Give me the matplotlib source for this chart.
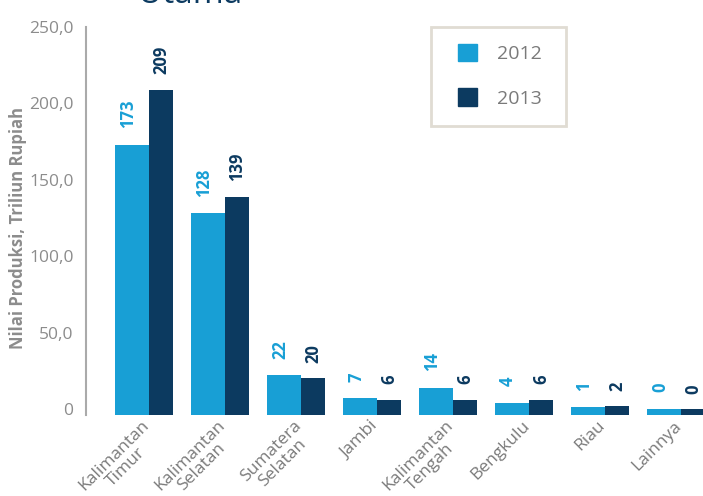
import numpy as np
import matplotlib
matplotlib.use('Agg')
from matplotlib import pyplot as plt
from matplotlib.patches import Patch, Rectangle

plt.rcParams['font.family'] = ['Open Sans', 'DejaVu Sans']

# data
regions = ['Kalimantan\nTimur', 'Kalimantan\nSelatan', 'Sumatera\nSelatan', 'Jambi',
           'Kalimantan\nTengah', 'Bengkulu', 'Riau', 'Lainnya']
val2012 = [173, 128, 22, 7, 14, 4, 1, 0]
val2013 = [209, 139, 20, 6, 6, 6, 2, 0]
yticks = [0, 50, 100, 150, 200, 250]
yticklabels = ['0', '50,0', '100,0', '150,0', '200,0', '250,0']

c12 = '#189fd5'
c13 = '#0c3a60'
grey = '#8c8c8c'
base = -4  # bars start a little below the zero line, as in the original

W, H = 703, 496
fig = plt.figure(figsize=(W / 100, H / 100), dpi=100)
ax = fig.add_axes([86 / W, 1 - 415 / H, 1 - 86 / W, (415 - 27) / H])

x = np.arange(len(regions))
w12, w13 = 0.45, 0.32
h12 = np.array(val2012) - base
h13 = np.array(val2013) - base
ax.bar(x - w12, h12, w12, bottom=base, align='edge', color=c12)
ax.bar(x, h13, w13, bottom=base, align='edge', color=c13)

for xi, v in zip(x, val2012):
    ax.annotate(str(v), (xi - w12 / 2 - 0.05, v), xytext=(0, 12), textcoords='offset points',
                rotation=90, ha='center', va='bottom', color=c12, fontsize=12, fontweight='bold')
for xi, v in zip(x, val2013):
    ax.annotate(str(v), (xi + w13 / 2, v), xytext=(0, 11), textcoords='offset points',
                rotation=90, ha='center', va='bottom', color=c13, fontsize=12, fontweight='bold')

ax.set_xlim(-0.83, 7.29)
ax.set_ylim(base, 250)
ax.set_yticks(yticks)
ax.set_yticklabels(yticklabels, color=grey, fontsize=12.5)
ax.set_xticks(x - 0.1)
ax.set_xticklabels(regions, rotation=45, ha='right', va='top', rotation_mode='anchor',
                   color='#7a7a7a', fontsize=12.5, multialignment='center',
                   linespacing=1.0)
ax.tick_params(axis='both', length=0)
ax.tick_params(axis='y', pad=9)
ax.tick_params(axis='x', pad=2)

for s in ['top', 'right', 'bottom']:
    ax.spines[s].set_visible(False)
ax.spines['left'].set_color('#aaaaaa')
ax.spines['left'].set_linewidth(1.5)

fig.text(18 / W, 1 - 228 / H, 'Nilai Produksi, Triliun Rupiah', rotation=90,
         ha='center', va='center', color=grey, fontsize=12, fontweight='bold')

# legend: entries plus a plain box drawn around them
fig.patches.append(Rectangle((431 / W, 1 - 126 / H), 135 / W, 99 / H,
                             transform=fig.transFigure, fill=False,
                             edgecolor='#e0dcd3', linewidth=2))
handles = [Patch(color=c12, label='2012'), Patch(color=c13, label='2013')]
leg = ax.legend(handles=handles, loc='upper left', bbox_to_anchor=(448 / W, 1 - 34 / H),
                bbox_transform=fig.transFigure, frameon=False, fontsize=14,
                handlelength=1.0, handleheight=1.0, labelspacing=1.3, borderpad=0.5,
                handletextpad=1.0, borderaxespad=0)
for t in leg.get_texts():
    t.set_color('#7a7a7a')

fig.text(0.271, 0.994, 'Utama', ha='center', va='baseline', color=c13, fontsize=24)

fig.savefig('out.png', dpi=100)
